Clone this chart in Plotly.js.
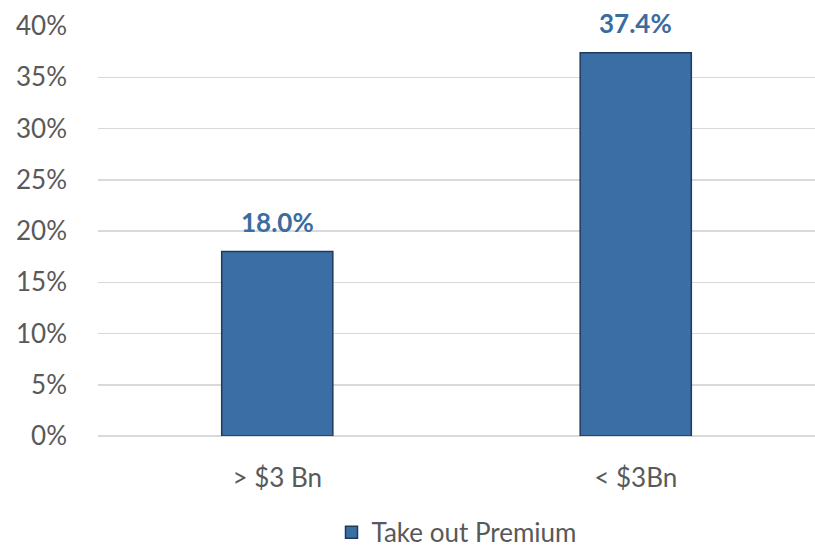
<!DOCTYPE html>
<html>
<head>
<meta charset="utf-8">
<script src="https://cdn.plot.ly/plotly-3.0.1.min.js"></script>
<style>html,body{margin:0;padding:0;background:#fff;}#chart{width:815px;height:550px;}</style>
</head>
<body>
<div id="chart"></div>
<script>
const categories = ['> $3 Bn', '< $3Bn'];
const premiumValues = [18.0, 37.4];
const yTickValues = [0, 5, 10, 15, 20, 25, 30, 35, 40];
const yTickLabels = ['0%', '5%', '10%', '15%', '20%', '25%', '30%', '35%', '40%'];
const seriesName = 'Take out Premium';

const FONT = 'Lato, "Open Sans", sans-serif';

const trace = {
  type: 'bar',
  x: categories,
  y: premiumValues,
  name: seriesName,
  width: 0.31,
  marker: {color: '#3A6EA5', line: {color: '#1E3B5E', width: 1.5}},
  hoverinfo: 'skip'
};

const labelAnnotations = categories.map((c, i) => ({
  x: c, y: premiumValues[i], xref: 'x', yref: 'y',
  text: '<b>' + premiumValues[i].toFixed(1) + '%</b>',
  showarrow: false, yanchor: 'bottom', yshift: 12,
  font: {family: FONT, size: 26, color: '#3A6CA0'}
}));

const layout = {
  width: 815, height: 550,
  margin: {l: 98, r: 0, t: 26, b: 114, autoexpand: false},
  paper_bgcolor: '#fff', plot_bgcolor: '#fff',
  font: {family: FONT, size: 26, color: '#595959'},
  showlegend: true,
  legend: {orientation: 'h', x: 0.5, xanchor: 'center', xref: 'paper', y: -0.235, yanchor: 'middle', font: {size: 26, color: '#595959'}},
  xaxis: {showgrid: false, zeroline: false, showline: false, ticks: '', ticklabelstandoff: 24, tickfont: {size: 26, color: '#595959'}},
  yaxis: {range: [0, 40], tickmode: 'array', tickvals: yTickValues, ticktext: yTickLabels, showgrid: true, gridcolor: '#D9D9D9', gridwidth: 1.5, zeroline: true, zerolinecolor: '#D9D9D9', zerolinewidth: 1.5, showline: false, ticks: '', ticklabelstandoff: 30, tickfont: {size: 26, color: '#595959'}},
  annotations: labelAnnotations,
  bargap: 0.69
};

Plotly.newPlot('chart', [trace], layout, {displayModeBar: false, staticPlot: true});
</script>
</body>
</html>
